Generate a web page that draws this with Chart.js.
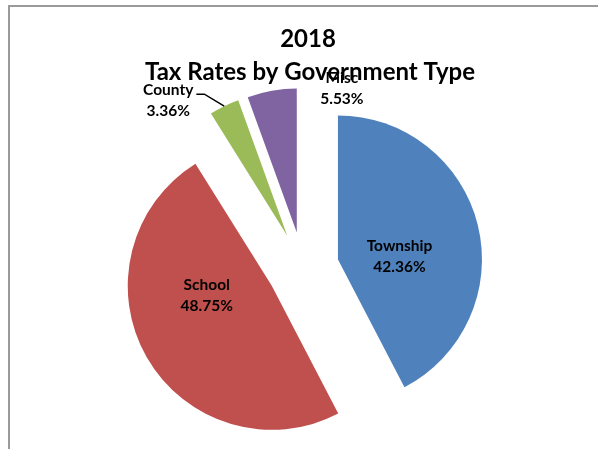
<!DOCTYPE html>
<html>
<head>
<meta charset="utf-8">
<script src="https://cdn.jsdelivr.net/npm/chart.js@4.4.0/dist/chart.umd.min.js"></script>
<style>
  html, body { margin: 0; padding: 0; background: #fff; overflow: hidden; }
  #frame { position: absolute; left: 8px; top: 5px; width: 700px; height: 500px;
           border-left: 2px solid #9a9a9a; border-top: 2px solid #9a9a9a; }
  #wrap { position: absolute; left: 0; top: 0; width: 598px; height: 449px; }
</style>
</head>
<body>
<div id="frame"></div>
<div id="wrap"><canvas id="taxChart"></canvas></div>
<script>
// tax rate share per government type
const categories = ["Township", "School", "County", "Misc"];
const rates = [42.36, 48.75, 3.36, 5.53];
const sliceColors = ["#4F81BD", "#C0504D", "#9BBB59", "#8064A2"];
const titleLines = ["2018", "Tax Rates by Government Type"];

// how far every slice is pulled out of the pie
const explode = 36;
// label placement: inside the slice or outside with a nudge from the bisector point
const labelInside = [true, true, false, false];
const labelShift = [[0, 12], [-10, -22], [-56, -6], [70, -2]];

const labelFont = "bold 15.5px Lato";
const titleFont = "bold 24px Lato";

// pull the slices apart without letting chart.js grow the small ones
const explodePlugin = {
  id: "explode",
  beforeDatasetsDraw(chart) {
    chart.getDatasetMeta(0).data.forEach(arc => {
      if (arc._exploded) return;
      const baseDraw = arc.draw;
      arc.draw = function (ctx) {
        const mid = (this.startAngle + this.endAngle) / 2;
        ctx.save();
        ctx.translate(Math.cos(mid) * explode, Math.sin(mid) * explode);
        baseDraw.call(this, ctx);
        ctx.restore();
      };
      arc._exploded = true;
    });
  }
};

// title + category/percent labels
const labelPlugin = {
  id: "pieLabels",
  afterDatasetsDraw(chart) {
    const ctx = chart.ctx;
    ctx.save();
    ctx.fillStyle = "#000";
    ctx.textAlign = "center";
    ctx.textBaseline = "middle";

    ctx.font = titleFont;
    ctx.fillText(titleLines[0], 308, 39);
    ctx.fillText(titleLines[1], 310, 72);

    ctx.font = labelFont;
    chart.getDatasetMeta(0).data.forEach((arc, i) => {
      const mid = (arc.startAngle + arc.endAngle) / 2;
      const cx = arc.x + Math.cos(mid) * explode;
      const cy = arc.y + Math.sin(mid) * explode;
      const dist = labelInside[i] ? arc.outerRadius * 0.44 : arc.outerRadius;
      const px = cx + Math.cos(mid) * dist;
      const py = cy + Math.sin(mid) * dist;
      const tx = px + labelShift[i][0];
      const ty = py + labelShift[i][1];
      const line1 = categories[i];
      const line2 = rates[i].toFixed(2) + "%";
      ctx.fillText(line1, tx, ty - 10.5);
      ctx.fillText(line2, tx, ty + 10.5);

      // leader line for the labels sitting left of their slice
      if (!labelInside[i] && tx < px - 20) {
        const w = ctx.measureText(line1).width;
        const sx = tx + w / 2 + 3;
        const sy = ty - 6;
        ctx.beginPath();
        ctx.moveTo(sx, sy);
        ctx.lineTo(sx + 8, sy);
        ctx.lineTo(px, py);
        ctx.strokeStyle = "#000";
        ctx.lineWidth = 1.5;
        ctx.stroke();
      }
    });
    ctx.restore();
  }
};

new Chart(document.getElementById("taxChart"), {
  type: "pie",
  data: {
    labels: categories,
    datasets: [{
      data: rates,
      backgroundColor: sliceColors,
      borderWidth: 0,
      offset: 0
    }]
  },
  options: {
    responsive: true,
    maintainAspectRatio: false,
    animation: false,
    radius: 144,
    layout: { padding: { top: 87, left: 8, right: 0, bottom: 0 } },
    plugins: {
      legend: { display: false },
      title: { display: false },
      tooltip: { enabled: false }
    }
  },
  plugins: [explodePlugin, labelPlugin]
});
</script>
</body>
</html>
